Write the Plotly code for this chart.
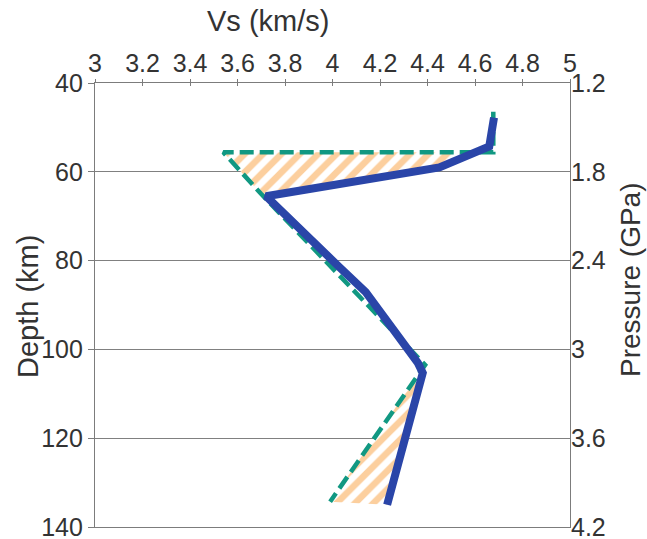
import plotly.graph_objects as go

# Shear-wave velocity profile: model (solid) and reference (dashed)
VS_MODEL = [4.68, 4.66, 4.45, 3.72, 4.02, 4.14, 4.36, 4.38, 4.23]
DEPTH_MODEL = [47.8, 54.3, 59.0, 65.5, 81.0, 87.1, 103.1, 105.3, 135.0]

VS_REF = [4.677, 4.677, 3.54, 3.70, 4.39, 3.99]
DEPTH_REF = [46.5, 55.6, 55.6, 65.0, 103.5, 134.3]

# Axis ticks
VS_TICKS = [3, 3.2, 3.4, 3.6, 3.8, 4, 4.2, 4.4, 4.6, 4.8, 5]
DEPTH_TICKS = [40, 60, 80, 100, 120, 140]
PRESSURE_TICKS = [1.2, 1.8, 2.4, 3, 3.6, 4.2]
PRESSURE_LABELS = ["1.2", "1.8", "2.4", "3", "3.6", "4.2"]

BLUE = "#2a45a8"
GREEN = "#119882"
HATCH = "#fccf9e"
AXIS = "#7c7c7c"
TEXT = "#333333"
FONT = "Liberation Sans, Arial, sans-serif"

# hatched wedges between the two profiles
upper_x = VS_REF[1:4] + VS_MODEL[1:4][::-1]
upper_y = DEPTH_REF[1:4] + DEPTH_MODEL[1:4][::-1]
lower_x = VS_REF[4:6] + VS_MODEL[7:9][::-1]
lower_y = DEPTH_REF[4:6] + DEPTH_MODEL[7:9][::-1]

pattern = dict(shape="/", fgcolor=HATCH, bgcolor="white", size=13, solidity=0.5)

fig = go.Figure()
for px, py in [(upper_x, upper_y), (lower_x, lower_y)]:
    fig.add_trace(go.Scatter(
        x=px + [px[0]], y=py + [py[0]], mode="lines", fill="toself",
        fillpattern=pattern, fillcolor="white", line=dict(width=0),
        hoverinfo="skip", showlegend=False,
    ))

fig.add_trace(go.Scatter(
    x=VS_REF, y=DEPTH_REF, mode="lines",
    line=dict(color=GREEN, width=4.5, dash="14px,6px"),
    showlegend=False,
))
fig.add_trace(go.Scatter(
    x=VS_MODEL, y=DEPTH_MODEL, mode="lines",
    line=dict(color=BLUE, width=8),
    showlegend=False,
))
# empty trace so the secondary (pressure / outer tick) axes are drawn
fig.add_trace(go.Scatter(
    x=[None], y=[None], xaxis="x2", yaxis="y2", mode="lines",
    hoverinfo="skip", showlegend=False,
))

L, R, T, B = 95, 77, 83, 12
W, H = 647, 539
pw, ph = W - L - R, H - T - B


def px_to_paper(x, y):
    return (x - L) / pw, 1 - (y - T) / ph


fig.update_layout(
    template="none",
    width=W, height=H,
    margin=dict(l=L, r=R, t=T, b=B, autoexpand=False),
    paper_bgcolor="white", plot_bgcolor="white",
    font=dict(family=FONT, color=TEXT, size=24),
    xaxis=dict(
        side="top", range=[3, 5], tickvals=VS_TICKS,
        ticktext=[f"{v:g}" for v in VS_TICKS],
        ticks="inside", ticklen=3, tickcolor=AXIS, automargin=False,
        showline=True, linecolor=AXIS, linewidth=1.2, mirror=True,
        showgrid=False, zeroline=False,
        tickfont=dict(size=25, color=TEXT), ticklabeloverflow="allow",
    ),
    xaxis2=dict(
        overlaying="x", side="top", anchor="y2", range=[3, 5], tickvals=VS_TICKS,
        showticklabels=False, ticks="outside", ticklen=3, tickcolor=AXIS,
        showgrid=False, zeroline=False, showline=False, automargin=False,
    ),
    yaxis=dict(
        range=[140, 40], tickvals=DEPTH_TICKS,
        ticks="outside", ticklen=6, tickcolor=AXIS, automargin=False,
        showline=True, linecolor=AXIS, linewidth=1.2, mirror=True,
        showgrid=True, gridcolor="#808080", gridwidth=1, zeroline=False,
        tickfont=dict(size=25, color=TEXT), ticklabeloverflow="allow",
    ),
    yaxis2=dict(
        overlaying="y", side="right", anchor="x2", range=[4.2, 1.2],
        tickvals=PRESSURE_TICKS, ticktext=PRESSURE_LABELS, automargin=False,
        ticks="", showgrid=False, zeroline=False, showline=False,
        tickfont=dict(size=25, color=TEXT), ticklabeloverflow="allow",
    ),
)

for text, (cx, cy), angle, size in [
    ("Vs (km/s)", (268, 21), 0, 29),
    ("Depth (km)", (28, 307), -90, 29),
    ("Pressure (GPa)", (630, 280), -90, 28),
]:
    ax, ay = px_to_paper(cx, cy)
    fig.add_annotation(
        text=text, x=ax, y=ay, xref="paper", yref="paper",
        xanchor="center", yanchor="middle", showarrow=False,
        textangle=angle, font=dict(size=size, color=TEXT, family=FONT),
    )

fig.write_html("out.html")
